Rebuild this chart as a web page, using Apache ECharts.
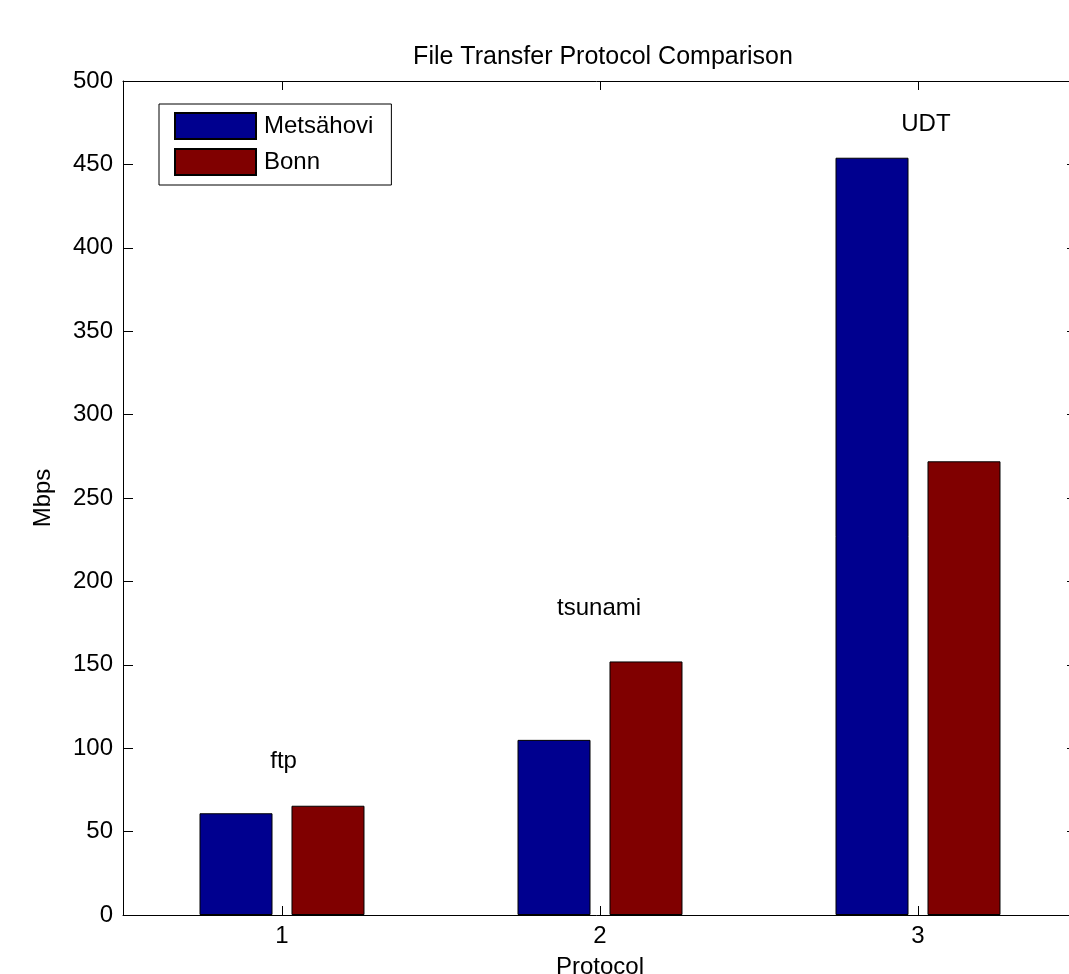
<!DOCTYPE html>
<html><head><meta charset="utf-8">
<script src="https://cdn.jsdelivr.net/npm/echarts@6/dist/echarts.min.js"></script>
<style>html,body{margin:0;padding:0;background:#fff;overflow:hidden}#c{width:1069px;height:974px}</style>
</head><body><div id="c"></div>
<script>
const categories = ['1', '2', '3'];
const metsahovi = [61, 105, 454];
const bonn = [65.5, 152, 272];
const yTicks = { min: 0, max: 500, interval: 50 };
const annotLabels = ['ftp', 'tsunami', 'UDT'];
const annotX = [1.005, 1.997, 3.025];
const annotY = [92, 184, 474];

const FONT = 'Liberation Sans';
const FS = 24;
const chart = echarts.init(document.getElementById('c'), null, { renderer: 'canvas' });
const axisLine = { show: true, onZero: false, lineStyle: { color: '#000', width: 1 } };
const tickY = { show: true, inside: true, length: 10, lineStyle: { color: '#000' } };
const tickX = { show: true, inside: true, length: 9, alignWithLabel: true, lineStyle: { color: '#000' } };

chart.setOption({
  backgroundColor: '#fff',
  animation: false,
  title: {
    text: 'File Transfer Protocol Comparison',
    left: 598, textAlign: 'center', top: 40,
    textStyle: { fontFamily: FONT, fontSize: 25, fontWeight: 'normal', color: '#000' }
  },
  legend: {
    orient: 'vertical', left: 159, top: 104,
    itemWidth: 81, itemHeight: 26, itemGap: 8,
    padding: [8, 18, 9, 15],
    borderColor: '#000', borderWidth: 1, backgroundColor: '#fff',
    icon: 'rect',
    textStyle: { fontFamily: FONT, fontSize: FS, color: '#000', padding: [0, 0, 0, 3] },
    data: ['Metsähovi', 'Bonn']
  },
  grid: { left: 123, top: 81, right: -8, bottom: 59, containLabel: false, outerBoundsMode: 'none' },
  xAxis: [
    { type: 'category', data: categories, position: 'bottom',
      name: 'Protocol', nameLocation: 'middle', nameGap: 40,
      nameTextStyle: { fontFamily: FONT, fontSize: FS, color: '#000' },
      axisLine, axisTick: tickX,
      axisLabel: { fontFamily: FONT, fontSize: FS, color: '#000', margin: 9 },
      splitLine: { show: false } },
    { type: 'category', data: categories, position: 'top',
      axisLine, axisTick: tickX,
      axisLabel: { show: false }, splitLine: { show: false } },
    { type: 'value', min: 0.5, max: 3.5, show: false }
  ],
  yAxis: [
    { type: 'value', min: yTicks.min, max: yTicks.max, interval: yTicks.interval,
      name: 'Mbps', nameLocation: 'middle', nameGap: 68, nameRotate: 90,
      nameTextStyle: { fontFamily: FONT, fontSize: FS, color: '#000' },
      axisLine, axisTick: tickY,
      axisLabel: { fontFamily: FONT, fontSize: FS, color: '#000', margin: 10 },
      splitLine: { show: false } },
    { type: 'value', min: yTicks.min, max: yTicks.max, interval: yTicks.interval, position: 'right',
      axisLine, axisTick: tickY, axisLabel: { show: false }, splitLine: { show: false } }
  ],
  series: [
    { name: 'Metsähovi', type: 'bar', data: metsahovi, barWidth: 73, barGap: '26%',
      itemStyle: { color: '#00008F', borderColor: '#000', borderWidth: 1 } },
    { name: 'Bonn', type: 'bar', data: bonn, barWidth: 73,
      itemStyle: { color: '#800000', borderColor: '#000', borderWidth: 1 } },
    { type: 'scatter', xAxisIndex: 2, yAxisIndex: 0, symbolSize: 0, silent: true,
      itemStyle: { opacity: 1 },
      data: annotX.map((x, i) => ({ value: [x, annotY[i]], name: annotLabels[i] })),
      label: { show: true, position: 'inside', formatter: p => p.name,
        fontFamily: FONT, fontSize: FS, color: '#000', textBorderWidth: 0 } }
  ]
});
</script></body></html>
